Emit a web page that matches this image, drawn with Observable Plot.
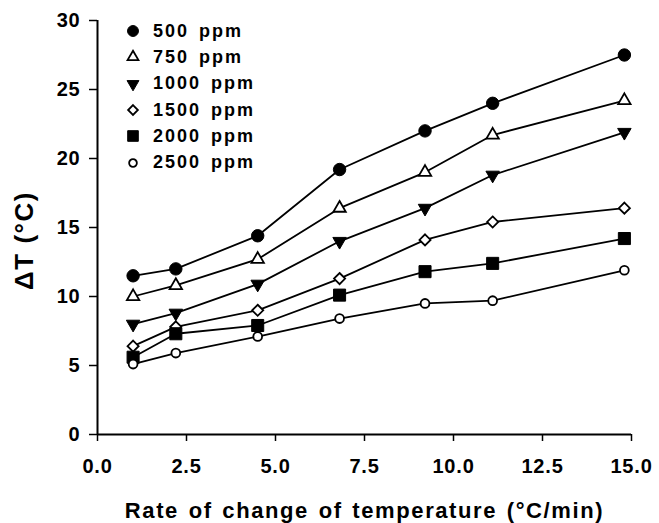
<!DOCTYPE html>
<html><head><meta charset="utf-8">
<script src="https://cdn.jsdelivr.net/npm/d3@7"></script>
<script src="https://cdn.jsdelivr.net/npm/@observablehq/plot@0.6"></script>
<style>
body{margin:0;background:#fff;}
#chart{position:relative;width:659px;height:523px;font-family:"Liberation Sans",Arial,sans-serif;}
#legend{position:absolute;left:122px;top:18px;}
.row{display:flex;align-items:center;height:26.3px;}
.row svg{width:22px;height:22px;margin-right:9px;flex:none;}
.row span{font-size:18px;font-weight:bold;letter-spacing:2px;word-spacing:3px;color:#000;}
</style></head><body><div id="chart"><div id="legend"></div></div>
<script>
// x values (°C/min)
const rates = [1.0, 2.2, 4.5, 6.8, 9.2, 11.1, 14.8];
const series = ["500 ppm", "750 ppm", "1000 ppm", "1500 ppm", "2000 ppm", "2500 ppm"];
const dt500  = [11.5, 12.0, 14.4, 19.2, 22.0, 24.0, 27.5];
const dt750  = [10.0, 10.8, 12.7, 16.4, 19.0, 21.7, 24.2];
const dt1000 = [8.0, 8.8, 10.9, 14.0, 16.4, 18.8, 21.9];
const dt1500 = [6.4, 7.8, 9.0, 11.3, 14.1, 15.4, 16.4];
const dt2000 = [5.6, 7.3, 7.9, 10.1, 11.8, 12.4, 14.2];
const dt2500 = [5.1, 5.9, 7.1, 8.4, 9.5, 9.7, 11.9];
const xTicks = [0, 2.5, 5, 7.5, 10, 12.5, 15];
const yTicks = [0, 5, 10, 15, 20, 25, 30];
const xLabel = "Rate of change of temperature (°C/min)";
const yLabel = "ΔT (°C)";

const values = [dt500, dt750, dt1000, dt1500, dt2000, dt2500];
const rows = series.flatMap((s, i) => rates.map((x, j) => ({series: s, rate: x, dt: values[i][j]})));

// marker styles per series
const markerStyle = {
  "500 ppm":  {symbol: "circle",   fill: "black", r: 6.2, rotate: 0,   sw: 1},
  "750 ppm":  {symbol: "triangle", fill: "white", r: 4.6, rotate: 0,   sw: 1.8},
  "1000 ppm": {symbol: "triangle", fill: "black", r: 5.0, rotate: 180, sw: 1},
  "1500 ppm": {symbol: "diamond2", fill: "white", r: 5.0, rotate: 0,   sw: 1.8},
  "2000 ppm": {symbol: "square",   fill: "black", r: 6.8, rotate: 0,   sw: 1},
  "2500 ppm": {symbol: "circle",   fill: "white", r: 4.4, rotate: 0,   sw: 1.8}
};

const plot = Plot.plot({
  width: 659,
  height: 523,
  marginLeft: 97,
  marginRight: 28,
  marginTop: 20,
  marginBottom: 89,
  style: {fontFamily: '"Liberation Sans", Arial, sans-serif', fontSize: "20px", fontWeight: "bold", color: "black", background: "white"},
  x: {domain: [0, 15]},
  y: {domain: [0, 30]},
  marks: [
    Plot.axisX({ticks: xTicks, tickFormat: d3.format(".1f"), tickSize: 7, tickPadding: 17, strokeWidth: 1.5, label: null}),
    Plot.axisY({ticks: yTicks, tickFormat: d3.format("d"), tickSize: 8, tickPadding: 9, strokeWidth: 1.5, label: null}),
    Plot.ruleX([0], {strokeWidth: 2}),
    Plot.ruleY([0], {strokeWidth: 2}),
    Plot.line(rows, {x: "rate", y: "dt", z: "series", stroke: "black", strokeWidth: 1.8}),
    ...series.map(s => {
      const st = markerStyle[s];
      return Plot.dot(rows.filter(d => d.series === s), {
        x: "rate", y: "dt", symbol: st.symbol, r: st.r, fill: st.fill,
        stroke: "black", strokeWidth: st.sw, rotate: st.rotate
      });
    }),
    Plot.text([xLabel], {frameAnchor: "bottom", textAnchor: "middle", lineAnchor: "bottom", dy: 83, fontSize: 22, fontWeight: "bold"}),
    Plot.text([yLabel], {frameAnchor: "left", textAnchor: "middle", lineAnchor: "middle", dx: -73, dy: 13, rotate: -90, fontSize: 26, fontWeight: "bold"})
  ]
});
const chart = document.getElementById("chart");
chart.insertBefore(plot, chart.firstChild);

// text spacing tweaks
const svgSel = d3.select(plot.tagName.toLowerCase() === "svg" ? plot : plot.querySelector("svg"));
svgSel.selectAll("text").each(function() {
  const t = this.textContent;
  if (t === xLabel) d3.select(this).style("letter-spacing", "1.6px").style("word-spacing", "2px");
  else if (t === yLabel) d3.select(this).style("letter-spacing", "1.5px");
  else d3.select(this).style("letter-spacing", "0.8px");
});

// legend
const symMap = {circle: d3.symbolCircle, triangle: d3.symbolTriangle, diamond2: d3.symbolDiamond2, square: d3.symbolSquare};
const legend = d3.select("#legend");
series.forEach(s => {
  const st = markerStyle[s];
  const row = legend.append("div").attr("class", "row");
  const svg = row.append("svg").attr("viewBox", "-11 -11 22 22");
  const rr = st.r * 0.88;
  svg.append("path")
    .attr("d", d3.symbol().type(symMap[st.symbol]).size(Math.PI * rr * rr)())
    .attr("transform", `rotate(${st.rotate})`)
    .attr("fill", st.fill).attr("stroke", "black").attr("stroke-width", st.sw);
  row.append("span").text(s);
});
</script>
</body></html>
